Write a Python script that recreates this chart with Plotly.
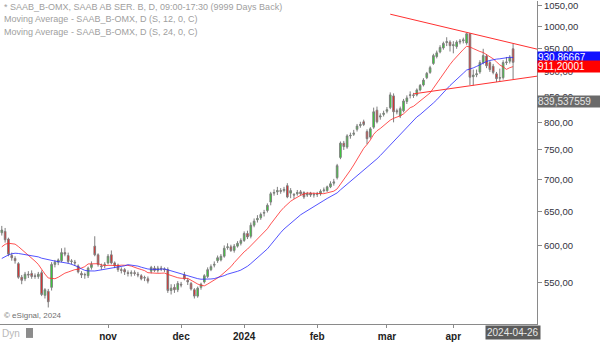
import numpy as np
import pandas as pd
import plotly.graph_objects as go

# Trading calendar (Nasdaq Stockholm), 2023-09-18 .. 2024-04-26
holidays = ["2023-12-25", "2023-12-26", "2024-01-01", "2024-03-29", "2024-04-01"]
days = [d.strftime("%Y-%m-%d") for d in pd.bdate_range("2023-09-18", "2024-04-26")]
days = [d for d in days if d not in holidays]

# Daily OHLC, SAAB B (SEK)
opens = [618, 620, 609, 586, 582, 575, 557, 555, 561, 562, 559, 558, 563, 534, 539, 544, 574, 577, 579, 590,
         586, 578, 577, 572, 562, 560, 559, 570, 599, 587, 572, 573, 576, 587, 576, 573, 567, 567, 563, 562,
         563, 561, 559, 556, 555, 565, 569, 566, 569, 568, 567, 540, 544, 541, 548, 560, 553, 549, 541, 533,
         544, 551, 558, 567, 573, 579, 580, 585, 597, 598, 593, 599, 603, 607, 617, 613, 629, 637, 640, 647,
         651, 664, 678, 680, 682, 682, 690, 678, 676, 677, 680, 679, 675, 678, 675, 676, 677, 682, 682, 688,
         694, 703, 737, 762, 755, 775, 778, 787, 794, 801, 783, 773, 791, 823, 810, 815, 821, 828, 851, 822,
         812, 822, 840, 852, 853, 853, 863, 873, 888, 899, 918, 933, 943, 952, 964, 965, 957, 955, 965, 968,
         963, 984, 890, 894, 900, 920, 934, 920, 912, 896, 887, 888, 920, 923, 950]
highs = [628, 625, 611, 590, 585, 577, 560, 564, 565, 566, 562, 564, 566, 543, 542, 577, 580, 582, 596, 597,
         590, 581, 580, 574, 565, 563, 571, 578, 613, 589, 575, 577, 588, 593, 578, 575, 570, 569, 566, 566,
         566, 564, 561, 559, 558, 572, 572, 572, 572, 570, 570, 548, 548, 552, 551, 564, 556, 551, 543, 545,
         550, 561, 570, 574, 578, 586, 588, 600, 603, 601, 602, 606, 610, 620, 621, 633, 639, 644, 648, 652,
         662, 680, 684, 688, 686, 688, 694, 686, 678, 683, 683, 681, 680, 680, 679, 680, 684, 687, 690, 697,
         701, 726, 765, 766, 778, 781, 786, 797, 801, 805, 787, 791, 828, 830, 817, 822, 829, 858, 856, 826,
         830, 845, 852, 860, 857, 866, 875, 887, 900, 913, 939, 946, 958, 966, 976, 969, 967, 969, 972, 975,
         986, 985, 905, 905, 925, 950, 938, 924, 917, 900, 907, 925, 932, 936, 962]
lows = [614, 604, 585, 579, 575, 555, 548, 552, 556, 555, 555, 555, 533, 530, 519, 540, 570, 573, 577, 585,
        575, 574, 572, 562, 556, 555, 556, 567, 585, 571, 567, 569, 574, 574, 569, 564, 562, 560, 558, 558,
        559, 557, 553, 552, 549, 562, 564, 563, 565, 564, 537, 535, 537, 538, 544, 553, 547, 540, 530, 531,
        541, 549, 556, 565, 570, 576, 578, 583, 594, 591, 590, 597, 600, 605, 609, 610, 626, 633, 637, 642,
        648, 659, 674, 675, 677, 679, 670, 670, 669, 674, 674, 669, 672, 672, 671, 672, 674, 679, 680, 686,
        690, 700, 734, 750, 752, 770, 775, 783, 790, 793, 760, 770, 788, 798, 805, 811, 817, 825, 800, 815,
        808, 819, 835, 846, 847, 850, 860, 870, 885, 896, 915, 929, 940, 948, 956, 944, 940, 950, 960, 962,
        959, 873, 872, 889, 896, 916, 908, 900, 895, 879, 880, 884, 915, 918, 885]
closes = [622, 608, 588, 583, 579, 557, 553, 561, 560, 558, 558, 561, 535, 541, 526, 574, 577, 580, 590, 588,
          578, 578.5, 576, 564, 560, 560.5, 569, 574, 587, 574, 571, 574, 585, 576, 572, 567, 566, 564, 562, 563,
          562, 560, 555, 556.5, 552, 570, 566, 569, 568, 567, 540, 543, 541, 549, 547, 555, 551, 542, 533, 543,
          548, 559, 567, 571, 574, 583, 585, 596, 598, 593, 599, 603, 607, 617, 612, 629, 635, 639, 645, 648,
          659, 677, 679, 682, 681, 684, 672, 682, 675, 679, 677, 672, 677, 675, 676, 676.5, 681, 683, 688, 693,
          696, 723, 762, 756, 775, 776, 780, 793, 796, 796, 770, 788, 820, 801, 812, 817, 824, 853, 820, 820,
          826, 841, 847, 853, 852, 863, 872, 883, 897, 909, 935, 941, 953, 962, 966, 957, 959, 965, 967, 970,
          984, 889, 893.4, 896, 920, 935, 913, 905, 899, 886, 888, 920, 921, 931, 920.4]

# Closes before the first shown session, needed to seed the moving averages
prior_closes = [538, 542, 546, 560, 565, 570, 575, 578, 580, 578, 582, 578,
                565, 570, 585, 592, 598, 600, 604, 606, 610, 610, 614]

# Price-axis tags: MA values and cursor level
ma24_tag = 930.86667
ma12_tag = 911.20001
cursor_tag = 839.537559

# Hand-drawn triangle: two anchor points per line (date, price)
upper_dates, upper_prices = ["2024-03-04", "2024-04-26"], [1030, 962]
lower_dates, lower_prices = ["2024-03-13", "2024-04-26"], [855, 884]

price_ticks = [550, 600, 650, 700, 750, 800, 850, 900, 950, 1000, 1050]
month_ticks = ["2023-11-01", "2023-12-01", "2024-01-02", "2024-02-01", "2024-03-01", "2024-04-02"]
month_labels = ["nov", "dec", "2024", "feb", "mar", "apr"]

legend_lines = [
    "* SAAB_B-OMX, SAAB AB SER. B, D, 09:00-17:30 (9999 Days Back)",
    "Moving Average - SAAB_B-OMX, D (S, 12, 0, C)",
    "Moving Average - SAAB_B-OMX, D (S, 24, 0, C)",
]

full = pd.Series(prior_closes + closes, dtype=float)
n0 = len(prior_closes)
ma12 = full.rolling(12).mean().iloc[n0:].tolist()
ma24 = full.rolling(24).mean().iloc[n0:].tolist()

X_RANGE = [-0.54, 161.2]
Y_RANGE = [2.69841, 3.02623]
FONT = "Liberation Sans, Arial, sans-serif"

fig = go.Figure()
fig.add_trace(go.Candlestick(
    x=days, open=opens, high=highs, low=lows, close=closes,
    increasing=dict(line=dict(color="#7f7f7f", width=1), fillcolor="#1fe81f"),
    decreasing=dict(line=dict(color="#7f7f7f", width=1), fillcolor="#ff1010"),
    whiskerwidth=0, showlegend=False, hoverinfo="skip",
))
fig.add_trace(go.Scatter(x=days, y=ma12, mode="lines",
                         line=dict(color="rgba(255,40,40,0.8)", width=1), showlegend=False))
fig.add_trace(go.Scatter(x=days, y=ma24, mode="lines",
                         line=dict(color="rgba(40,40,255,0.8)", width=1), showlegend=False))


def trend_line(dates, prices):
    i0, i1 = days.index(dates[0]), days.index(dates[1])
    l0, l1 = np.log10(prices[0]), np.log10(prices[1])
    k = (l1 - l0) / (i1 - i0)
    x_end = X_RANGE[1]
    return dict(type="line", xref="x", yref="y", x0=i0, y0=prices[0],
                x1=x_end, y1=10 ** (l0 + k * (x_end - i0)),
                line=dict(color="#ff3030", width=1))


fig.add_shape(trend_line(upper_dates, upper_prices))
fig.add_shape(trend_line(lower_dates, lower_prices))

# Legend text, top left
for k, txt in enumerate(legend_lines):
    fig.add_annotation(text=txt, xref="paper", yref="paper", x=0, y=1 - (6 + 12.5 * k) / 325,
                       xanchor="left", yanchor="middle", xshift=2, showarrow=False,
                       font=dict(family=FONT, size=9, color="#a0a0a0"))


def price_tag(value, text, bg, fg):
    fig.add_annotation(text=text, xref="paper", yref="y", x=1, y=np.log10(value),
                       xanchor="left", yanchor="middle", showarrow=False, align="left",
                       width=63, height=11, bgcolor=bg, borderpad=0,
                       font=dict(family=FONT, size=10, color=fg))


price_tag(cursor_tag, f"{cursor_tag:.6f}".replace(".", ","), "#6a6a6a", "#e6e6e6")
price_tag(ma24_tag, f"{ma24_tag:.5f}".replace(".", ","), "#1010ff", "#ffffff")
price_tag(ma12_tag, f"{ma12_tag:.5f}".replace(".", ","), "#ff0000", "#ffffff")

# Last-session date tag on the time axis
fig.add_annotation(text=days[-1], xref="x", yref="paper", x=days[-1], y=-9 / 325,
                   xanchor="center", yanchor="middle", showarrow=False,
                   bgcolor="#5c5c5c", borderpad=1, font=dict(family=FONT, size=10, color="#e8e8e8"))

fig.add_annotation(text="© eSignal, 2024", xref="paper", yref="paper", x=0, y=8.5 / 325,
                   xanchor="left", yanchor="middle", xshift=2, showarrow=False,
                   font=dict(family=FONT, size=8, color="#707070"))
fig.add_annotation(text="Dyn", xref="paper", yref="paper", x=0, y=-10 / 325,
                   xanchor="left", yanchor="middle", showarrow=False,
                   font=dict(family=FONT, size=10, color="#b8b8b8"))
fig.add_shape(type="rect", xref="paper", yref="paper", x0=26 / 537, x1=33 / 537,
              y0=-14 / 325, y1=-4 / 325, fillcolor="#8c8c8c", line=dict(width=0))

fig.update_layout(
    width=600, height=342, margin=dict(l=0, r=63, t=0, b=17),
    paper_bgcolor="white", plot_bgcolor="white",
    font=dict(family=FONT),
    xaxis=dict(type="category", range=X_RANGE, rangeslider=dict(visible=False),
               showgrid=False, zeroline=False, showline=True, linecolor="#8a8a8a", linewidth=1,
               tickmode="array", tickvals=month_ticks, ticktext=month_labels,
               ticks="outside", ticklen=3, tickcolor="#8a8a8a",
               tickfont=dict(family=FONT, size=10, color="#222222", weight="bold")),
    yaxis=dict(type="log", side="right", range=Y_RANGE, showgrid=False, zeroline=False,
               showline=True, linecolor="#8a8a8a", linewidth=1,
               tickmode="array", tickvals=price_ticks,
               ticktext=[f"{v:.2f}".replace(".", ",") for v in price_ticks],
               ticks="outside", ticklen=4, tickcolor="#8a8a8a", ticklabeloverflow="allow",
               tickfont=dict(family=FONT, size=9.5, color="#333340")),
    hovermode=False,
)

fig.write_html("out.html")
